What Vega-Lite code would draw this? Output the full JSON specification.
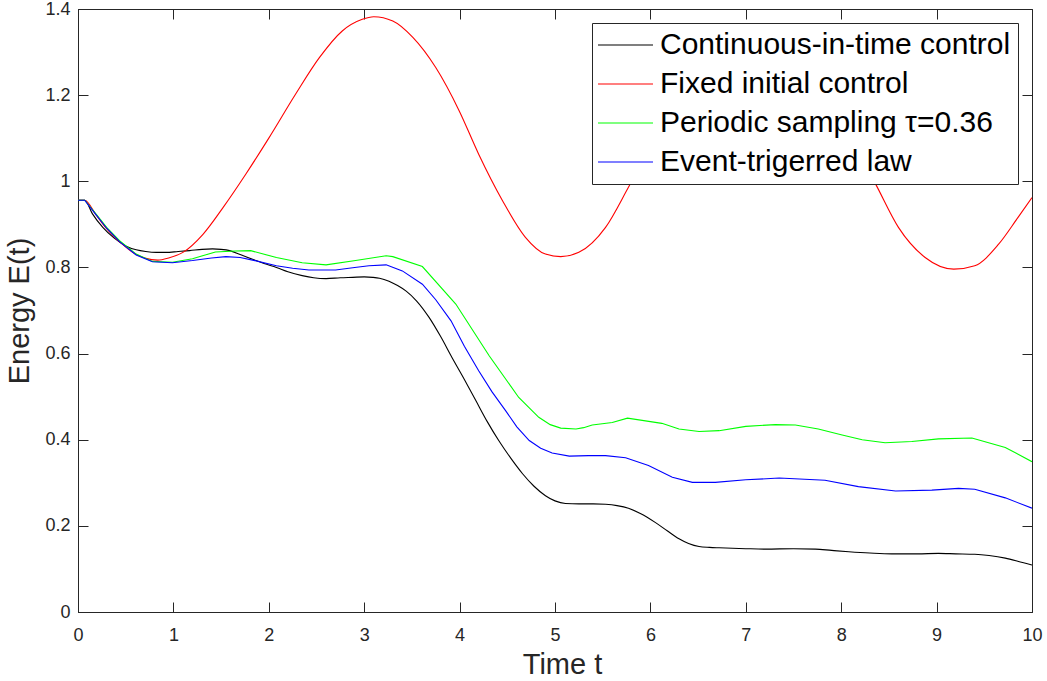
{
  "$schema": "https://vega.github.io/schema/vega-lite/v6.json",
  "width": 954,
  "height": 603,
  "autosize": {"type": "none"},
  "padding": {"left": 78, "top": 9, "right": 15, "bottom": 69},
  "background": "white",
  "config": {
    "view": {"stroke": "#262626", "strokeWidth": 1},
    "font": "Liberation Sans",
    "axis": {
      "grid": false,
      "domainColor": "#262626",
      "tickColor": "#262626",
      "tickWidth": 1,
      "labelColor": "#262626",
      "titleColor": "#262626",
      "labelFont": "Liberation Sans",
      "titleFont": "Liberation Sans",
      "labelFontSize": 18,
      "titleFontSize": 29,
      "titleFontWeight": "normal",
      "tickSize": -10,
      "labelFlush": false,
      "labelOverlap": false
    }
  },
  "datasets": {
    "curves": [
      {"t": 0, "E": 0.956, "series": "Continuous-in-time control"},
      {"t": 0.07, "E": 0.956, "series": "Continuous-in-time control"},
      {"t": 0.15, "E": 0.925, "series": "Continuous-in-time control"},
      {"t": 0.26, "E": 0.893, "series": "Continuous-in-time control"},
      {"t": 0.38, "E": 0.868, "series": "Continuous-in-time control"},
      {"t": 0.5, "E": 0.85, "series": "Continuous-in-time control"},
      {"t": 0.61, "E": 0.841, "series": "Continuous-in-time control"},
      {"t": 0.71, "E": 0.837, "series": "Continuous-in-time control"},
      {"t": 0.82, "E": 0.835, "series": "Continuous-in-time control"},
      {"t": 0.92, "E": 0.835, "series": "Continuous-in-time control"},
      {"t": 1.05, "E": 0.837, "series": "Continuous-in-time control"},
      {"t": 1.17, "E": 0.839, "series": "Continuous-in-time control"},
      {"t": 1.3, "E": 0.842, "series": "Continuous-in-time control"},
      {"t": 1.41, "E": 0.843, "series": "Continuous-in-time control"},
      {"t": 1.5, "E": 0.842, "series": "Continuous-in-time control"},
      {"t": 1.59, "E": 0.839, "series": "Continuous-in-time control"},
      {"t": 1.7, "E": 0.83, "series": "Continuous-in-time control"},
      {"t": 1.83, "E": 0.819, "series": "Continuous-in-time control"},
      {"t": 1.95, "E": 0.809, "series": "Continuous-in-time control"},
      {"t": 2.08, "E": 0.8, "series": "Continuous-in-time control"},
      {"t": 2.2, "E": 0.79, "series": "Continuous-in-time control"},
      {"t": 2.35, "E": 0.781, "series": "Continuous-in-time control"},
      {"t": 2.47, "E": 0.776, "series": "Continuous-in-time control"},
      {"t": 2.6, "E": 0.774, "series": "Continuous-in-time control"},
      {"t": 2.75, "E": 0.776, "series": "Continuous-in-time control"},
      {"t": 2.88, "E": 0.777, "series": "Continuous-in-time control"},
      {"t": 3.0, "E": 0.778, "series": "Continuous-in-time control"},
      {"t": 3.09, "E": 0.777, "series": "Continuous-in-time control"},
      {"t": 3.16, "E": 0.775, "series": "Continuous-in-time control"},
      {"t": 3.26, "E": 0.768, "series": "Continuous-in-time control"},
      {"t": 3.35, "E": 0.758, "series": "Continuous-in-time control"},
      {"t": 3.44, "E": 0.745, "series": "Continuous-in-time control"},
      {"t": 3.55, "E": 0.722, "series": "Continuous-in-time control"},
      {"t": 3.68, "E": 0.684, "series": "Continuous-in-time control"},
      {"t": 3.8, "E": 0.64, "series": "Continuous-in-time control"},
      {"t": 3.92, "E": 0.591, "series": "Continuous-in-time control"},
      {"t": 4.05, "E": 0.54, "series": "Continuous-in-time control"},
      {"t": 4.17, "E": 0.491, "series": "Continuous-in-time control"},
      {"t": 4.29, "E": 0.442, "series": "Continuous-in-time control"},
      {"t": 4.41, "E": 0.398, "series": "Continuous-in-time control"},
      {"t": 4.54, "E": 0.356, "series": "Continuous-in-time control"},
      {"t": 4.66, "E": 0.321, "series": "Continuous-in-time control"},
      {"t": 4.78, "E": 0.292, "series": "Continuous-in-time control"},
      {"t": 4.9, "E": 0.27, "series": "Continuous-in-time control"},
      {"t": 5.0, "E": 0.258, "series": "Continuous-in-time control"},
      {"t": 5.11, "E": 0.252, "series": "Continuous-in-time control"},
      {"t": 5.25, "E": 0.251, "series": "Continuous-in-time control"},
      {"t": 5.4, "E": 0.251, "series": "Continuous-in-time control"},
      {"t": 5.53, "E": 0.25, "series": "Continuous-in-time control"},
      {"t": 5.65, "E": 0.247, "series": "Continuous-in-time control"},
      {"t": 5.77, "E": 0.241, "series": "Continuous-in-time control"},
      {"t": 5.9, "E": 0.228, "series": "Continuous-in-time control"},
      {"t": 6.05, "E": 0.208, "series": "Continuous-in-time control"},
      {"t": 6.18, "E": 0.188, "series": "Continuous-in-time control"},
      {"t": 6.3, "E": 0.17, "series": "Continuous-in-time control"},
      {"t": 6.4, "E": 0.159, "series": "Continuous-in-time control"},
      {"t": 6.51, "E": 0.152, "series": "Continuous-in-time control"},
      {"t": 6.62, "E": 0.15, "series": "Continuous-in-time control"},
      {"t": 6.72, "E": 0.149, "series": "Continuous-in-time control"},
      {"t": 7.0, "E": 0.147, "series": "Continuous-in-time control"},
      {"t": 7.21, "E": 0.146, "series": "Continuous-in-time control"},
      {"t": 7.5, "E": 0.147, "series": "Continuous-in-time control"},
      {"t": 7.73, "E": 0.146, "series": "Continuous-in-time control"},
      {"t": 7.9, "E": 0.143, "series": "Continuous-in-time control"},
      {"t": 8.08, "E": 0.14, "series": "Continuous-in-time control"},
      {"t": 8.3, "E": 0.137, "series": "Continuous-in-time control"},
      {"t": 8.53, "E": 0.135, "series": "Continuous-in-time control"},
      {"t": 8.8, "E": 0.135, "series": "Continuous-in-time control"},
      {"t": 9.02, "E": 0.136, "series": "Continuous-in-time control"},
      {"t": 9.2, "E": 0.135, "series": "Continuous-in-time control"},
      {"t": 9.4, "E": 0.134, "series": "Continuous-in-time control"},
      {"t": 9.55, "E": 0.131, "series": "Continuous-in-time control"},
      {"t": 9.72, "E": 0.125, "series": "Continuous-in-time control"},
      {"t": 9.85, "E": 0.118, "series": "Continuous-in-time control"},
      {"t": 10.0, "E": 0.109, "series": "Continuous-in-time control"},

      {"t": 0, "E": 0.956, "series": "Fixed initial control"},
      {"t": 0.07, "E": 0.956, "series": "Fixed initial control"},
      {"t": 0.19, "E": 0.922, "series": "Fixed initial control"},
      {"t": 0.3, "E": 0.89, "series": "Fixed initial control"},
      {"t": 0.435, "E": 0.86, "series": "Fixed initial control"},
      {"t": 0.61, "E": 0.83, "series": "Fixed initial control"},
      {"t": 0.7, "E": 0.822, "series": "Fixed initial control"},
      {"t": 0.836, "E": 0.817, "series": "Fixed initial control"},
      {"t": 0.95, "E": 0.822, "series": "Fixed initial control"},
      {"t": 1.1, "E": 0.835, "series": "Fixed initial control"},
      {"t": 1.31, "E": 0.877, "series": "Fixed initial control"},
      {"t": 1.52, "E": 0.939, "series": "Fixed initial control"},
      {"t": 1.76, "E": 1.017, "series": "Fixed initial control"},
      {"t": 2.005, "E": 1.102, "series": "Fixed initial control"},
      {"t": 2.28, "E": 1.202, "series": "Fixed initial control"},
      {"t": 2.53, "E": 1.287, "series": "Fixed initial control"},
      {"t": 2.77, "E": 1.349, "series": "Fixed initial control"},
      {"t": 2.98, "E": 1.376, "series": "Fixed initial control"},
      {"t": 3.1, "E": 1.382, "series": "Fixed initial control"},
      {"t": 3.3, "E": 1.372, "series": "Fixed initial control"},
      {"t": 3.51, "E": 1.334, "series": "Fixed initial control"},
      {"t": 3.75, "E": 1.264, "series": "Fixed initial control"},
      {"t": 3.995, "E": 1.164, "series": "Fixed initial control"},
      {"t": 4.2, "E": 1.063, "series": "Fixed initial control"},
      {"t": 4.45, "E": 0.955, "series": "Fixed initial control"},
      {"t": 4.69, "E": 0.87, "series": "Fixed initial control"},
      {"t": 4.9, "E": 0.831, "series": "Fixed initial control"},
      {"t": 5.06, "E": 0.825, "series": "Fixed initial control"},
      {"t": 5.25, "E": 0.835, "series": "Fixed initial control"},
      {"t": 5.53, "E": 0.893, "series": "Fixed initial control"},
      {"t": 5.77, "E": 0.986, "series": "Fixed initial control"},
      {"t": 6.05, "E": 1.1, "series": "Fixed initial control"},
      {"t": 6.4, "E": 1.23, "series": "Fixed initial control"},
      {"t": 6.75, "E": 1.32, "series": "Fixed initial control"},
      {"t": 7.1, "E": 1.35, "series": "Fixed initial control"},
      {"t": 7.45, "E": 1.32, "series": "Fixed initial control"},
      {"t": 7.8, "E": 1.23, "series": "Fixed initial control"},
      {"t": 8.1, "E": 1.1, "series": "Fixed initial control"},
      {"t": 8.36, "E": 0.994, "series": "Fixed initial control"},
      {"t": 8.6, "E": 0.893, "series": "Fixed initial control"},
      {"t": 8.88, "E": 0.823, "series": "Fixed initial control"},
      {"t": 9.18, "E": 0.796, "series": "Fixed initial control"},
      {"t": 9.4, "E": 0.804, "series": "Fixed initial control"},
      {"t": 9.65, "E": 0.854, "series": "Fixed initial control"},
      {"t": 9.85, "E": 0.915, "series": "Fixed initial control"},
      {"t": 10.0, "E": 0.962, "series": "Fixed initial control"},

      {"t": 0, "E": 0.956, "series": "Periodic sampling τ=0.36"},
      {"t": 0.07, "E": 0.956, "series": "Periodic sampling τ=0.36"},
      {"t": 0.19, "E": 0.924, "series": "Periodic sampling τ=0.36"},
      {"t": 0.3, "E": 0.893, "series": "Periodic sampling τ=0.36"},
      {"t": 0.435, "E": 0.862, "series": "Periodic sampling τ=0.36"},
      {"t": 0.61, "E": 0.831, "series": "Periodic sampling τ=0.36"},
      {"t": 0.78, "E": 0.814, "series": "Periodic sampling τ=0.36"},
      {"t": 0.99, "E": 0.812, "series": "Periodic sampling τ=0.36"},
      {"t": 1.2, "E": 0.82, "series": "Periodic sampling τ=0.36"},
      {"t": 1.44, "E": 0.836, "series": "Periodic sampling τ=0.36"},
      {"t": 1.65, "E": 0.838, "series": "Periodic sampling τ=0.36"},
      {"t": 1.81, "E": 0.839, "series": "Periodic sampling τ=0.36"},
      {"t": 2.08, "E": 0.823, "series": "Periodic sampling τ=0.36"},
      {"t": 2.35, "E": 0.811, "series": "Periodic sampling τ=0.36"},
      {"t": 2.6, "E": 0.806, "series": "Periodic sampling τ=0.36"},
      {"t": 2.91, "E": 0.816, "series": "Periodic sampling τ=0.36"},
      {"t": 3.23, "E": 0.827, "series": "Periodic sampling τ=0.36"},
      {"t": 3.3, "E": 0.825, "series": "Periodic sampling τ=0.36"},
      {"t": 3.61, "E": 0.802, "series": "Periodic sampling τ=0.36"},
      {"t": 3.96, "E": 0.715, "series": "Periodic sampling τ=0.36"},
      {"t": 4.31, "E": 0.595, "series": "Periodic sampling τ=0.36"},
      {"t": 4.62, "E": 0.498, "series": "Periodic sampling τ=0.36"},
      {"t": 4.83, "E": 0.452, "series": "Periodic sampling τ=0.36"},
      {"t": 4.95, "E": 0.435, "series": "Periodic sampling τ=0.36"},
      {"t": 5.06, "E": 0.427, "series": "Periodic sampling τ=0.36"},
      {"t": 5.22, "E": 0.425, "series": "Periodic sampling τ=0.36"},
      {"t": 5.3, "E": 0.428, "series": "Periodic sampling τ=0.36"},
      {"t": 5.39, "E": 0.434, "series": "Periodic sampling τ=0.36"},
      {"t": 5.6, "E": 0.44, "series": "Periodic sampling τ=0.36"},
      {"t": 5.76, "E": 0.45, "series": "Periodic sampling τ=0.36"},
      {"t": 6.12, "E": 0.438, "series": "Periodic sampling τ=0.36"},
      {"t": 6.3, "E": 0.425, "series": "Periodic sampling τ=0.36"},
      {"t": 6.51, "E": 0.419, "series": "Periodic sampling τ=0.36"},
      {"t": 6.72, "E": 0.421, "series": "Periodic sampling τ=0.36"},
      {"t": 7.0, "E": 0.431, "series": "Periodic sampling τ=0.36"},
      {"t": 7.31, "E": 0.435, "series": "Periodic sampling τ=0.36"},
      {"t": 7.52, "E": 0.434, "series": "Periodic sampling τ=0.36"},
      {"t": 7.76, "E": 0.425, "series": "Periodic sampling τ=0.36"},
      {"t": 8.01, "E": 0.411, "series": "Periodic sampling τ=0.36"},
      {"t": 8.22, "E": 0.4, "series": "Periodic sampling τ=0.36"},
      {"t": 8.46, "E": 0.393, "series": "Periodic sampling τ=0.36"},
      {"t": 8.74, "E": 0.396, "series": "Periodic sampling τ=0.36"},
      {"t": 9.02, "E": 0.402, "series": "Periodic sampling τ=0.36"},
      {"t": 9.37, "E": 0.404, "series": "Periodic sampling τ=0.36"},
      {"t": 9.72, "E": 0.382, "series": "Periodic sampling τ=0.36"},
      {"t": 10.0, "E": 0.349, "series": "Periodic sampling τ=0.36"},

      {"t": 0, "E": 0.956, "series": "Event-trigerred law"},
      {"t": 0.07, "E": 0.956, "series": "Event-trigerred law"},
      {"t": 0.19, "E": 0.922, "series": "Event-trigerred law"},
      {"t": 0.3, "E": 0.891, "series": "Event-trigerred law"},
      {"t": 0.435, "E": 0.86, "series": "Event-trigerred law"},
      {"t": 0.61, "E": 0.829, "series": "Event-trigerred law"},
      {"t": 0.78, "E": 0.813, "series": "Event-trigerred law"},
      {"t": 0.99, "E": 0.811, "series": "Event-trigerred law"},
      {"t": 1.2, "E": 0.816, "series": "Event-trigerred law"},
      {"t": 1.4, "E": 0.822, "series": "Event-trigerred law"},
      {"t": 1.55, "E": 0.825, "series": "Event-trigerred law"},
      {"t": 1.7, "E": 0.823, "series": "Event-trigerred law"},
      {"t": 1.83, "E": 0.817, "series": "Event-trigerred law"},
      {"t": 2.08, "E": 0.804, "series": "Event-trigerred law"},
      {"t": 2.25, "E": 0.798, "series": "Event-trigerred law"},
      {"t": 2.42, "E": 0.794, "series": "Event-trigerred law"},
      {"t": 2.7, "E": 0.794, "series": "Event-trigerred law"},
      {"t": 2.9, "E": 0.8, "series": "Event-trigerred law"},
      {"t": 3.05, "E": 0.804, "series": "Event-trigerred law"},
      {"t": 3.23, "E": 0.806, "series": "Event-trigerred law"},
      {"t": 3.4, "E": 0.792, "series": "Event-trigerred law"},
      {"t": 3.61, "E": 0.761, "series": "Event-trigerred law"},
      {"t": 3.75, "E": 0.725, "series": "Event-trigerred law"},
      {"t": 3.91, "E": 0.676, "series": "Event-trigerred law"},
      {"t": 4.05, "E": 0.617, "series": "Event-trigerred law"},
      {"t": 4.2, "E": 0.56, "series": "Event-trigerred law"},
      {"t": 4.34, "E": 0.511, "series": "Event-trigerred law"},
      {"t": 4.48, "E": 0.468, "series": "Event-trigerred law"},
      {"t": 4.6, "E": 0.43, "series": "Event-trigerred law"},
      {"t": 4.73, "E": 0.398, "series": "Event-trigerred law"},
      {"t": 4.85, "E": 0.38, "series": "Event-trigerred law"},
      {"t": 4.97, "E": 0.369, "series": "Event-trigerred law"},
      {"t": 5.15, "E": 0.362, "series": "Event-trigerred law"},
      {"t": 5.35, "E": 0.363, "series": "Event-trigerred law"},
      {"t": 5.53, "E": 0.363, "series": "Event-trigerred law"},
      {"t": 5.74, "E": 0.358, "series": "Event-trigerred law"},
      {"t": 5.98, "E": 0.34, "series": "Event-trigerred law"},
      {"t": 6.23, "E": 0.313, "series": "Event-trigerred law"},
      {"t": 6.44, "E": 0.301, "series": "Event-trigerred law"},
      {"t": 6.68, "E": 0.301, "series": "Event-trigerred law"},
      {"t": 7.0, "E": 0.307, "series": "Event-trigerred law"},
      {"t": 7.35, "E": 0.311, "series": "Event-trigerred law"},
      {"t": 7.83, "E": 0.306, "series": "Event-trigerred law"},
      {"t": 8.18, "E": 0.291, "series": "Event-trigerred law"},
      {"t": 8.57, "E": 0.281, "series": "Event-trigerred law"},
      {"t": 8.95, "E": 0.283, "series": "Event-trigerred law"},
      {"t": 9.23, "E": 0.287, "series": "Event-trigerred law"},
      {"t": 9.4, "E": 0.285, "series": "Event-trigerred law"},
      {"t": 9.72, "E": 0.265, "series": "Event-trigerred law"},
      {"t": 10.0, "E": 0.241, "series": "Event-trigerred law"}
    ]
  },
  "data": {"name": "curves"},
  "layer": [
    {
      "transform": [{"filter": {"field": "series", "oneOf": ["Continuous-in-time control", "Fixed initial control"]}}],
      "mark": {"type": "line", "strokeWidth": 1.1, "clip": true, "interpolate": "monotone"},
      "encoding": {
        "x": {
          "field": "t", "type": "quantitative",
          "scale": {"domain": [0, 10], "nice": false, "zero": false},
          "axis": {"orient": "bottom", "title": "Time t", "values": [0, 1, 2, 3, 4, 5, 6, 7, 8, 9, 10], "labelPadding": 24, "titlePadding": 6, "titleX": 484}
        },
        "y": {
          "field": "E", "type": "quantitative",
          "scale": {"domain": [0, 1.4], "nice": false},
          "axis": {"orient": "left", "title": "Energy E(t)", "values": [0, 0.2, 0.4, 0.6, 0.8, 1, 1.2, 1.4], "format": "~g", "labelPadding": 18, "titlePadding": 10}
        },
        "color": {
          "field": "series", "type": "nominal",
          "scale": {
            "domain": ["Continuous-in-time control", "Fixed initial control", "Periodic sampling τ=0.36", "Event-trigerred law"],
            "range": ["#000000", "#ff0000", "#00ff00", "#0000ff"]
          },
          "legend": {
            "title": null,
            "orient": "none",
            "legendX": 514,
            "legendY": 14,
            "fillColor": "white",
            "strokeColor": "#262626",
            "padding": 7,
            "labelFont": "Liberation Sans",
            "labelFontSize": 30,
            "labelColor": "#000000",
            "labelLimit": 600,
            "labelOffset": 31,
            "symbolType": "M-1.6,0H3.9",
            "symbolSize": 400,
            "symbolStrokeWidth": 1.1,
            "rowPadding": 9
          }
        }
      }
    },
    {
      "transform": [{"filter": {"field": "series", "oneOf": ["Periodic sampling τ=0.36", "Event-trigerred law"]}}],
      "mark": {"type": "line", "strokeWidth": 1.1, "clip": true},
      "encoding": {
        "x": {"field": "t", "type": "quantitative", "scale": {"domain": [0, 10], "nice": false, "zero": false}, "axis": null},
        "y": {"field": "E", "type": "quantitative", "scale": {"domain": [0, 1.4], "nice": false}, "axis": null},
        "color": {"field": "series", "type": "nominal"}
      }
    },
    {
      "mark": {"type": "point", "opacity": 0},
      "encoding": {
        "x": {
          "field": "t", "type": "quantitative",
          "scale": {"domain": [0, 10], "nice": false, "zero": false},
          "axis": {"orient": "top", "title": null, "labels": false, "domain": false, "values": [0, 1, 2, 3, 4, 5, 6, 7, 8, 9, 10]}
        },
        "y": {
          "field": "E", "type": "quantitative",
          "scale": {"domain": [0, 1.4], "nice": false},
          "axis": {"orient": "right", "title": null, "labels": false, "domain": false, "values": [0, 0.2, 0.4, 0.6, 0.8, 1, 1.2, 1.4]}
        }
      }
    }
  ],
  "resolve": {"axis": {"x": "independent", "y": "independent"}}
}
